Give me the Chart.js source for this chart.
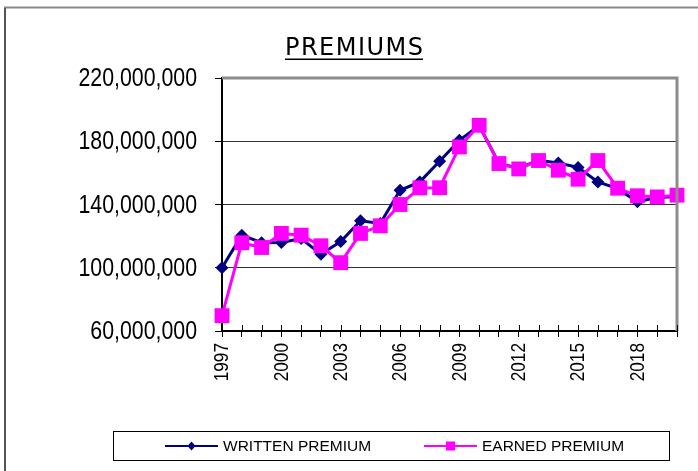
<!DOCTYPE html>
<html>
<head>
<meta charset="utf-8">
<script src="https://cdn.jsdelivr.net/npm/chart.js@4/dist/chart.umd.min.js"></script>
<style>
  html, body { margin: 0; padding: 0; background: #fff; }
  #wrap { width: 698px; height: 471px; position: relative; }
</style>
</head>
<body>
<div id="wrap"><canvas id="chart" width="698" height="471"></canvas></div>
<script>
const years = ['1997','1998','1999','2000','2001','2002','2003','2004','2005','2006','2007','2008',
  '2009','2010','2011','2012','2013','2014','2015','2016','2017','2018','2019','2020'];
const written = [100.0, 120.6, 115.8, 116.0, 118.5, 108.6, 116.6, 129.7, 128.0, 149.0, 154.3, 167.4,
  180.6, 190.0, 166.0, 163.0, 168.0, 166.3, 163.4, 154.3, 150.0, 141.7, 144.5, 145.0].map(v => v * 1e6);
const earned = [69.7, 115.8, 112.8, 121.7, 120.6, 113.9, 103.2, 121.7, 126.5, 140.0, 150.5, 150.6,
  176.4, 190.1, 165.9, 162.5, 167.8, 161.7, 156.0, 167.8, 150.3, 145.5, 144.8, 145.9].map(v => v * 1e6);
const yTicks = [60e6, 100e6, 140e6, 180e6, 220e6];

const NAVY = '#000080';
const MAGENTA = '#FF00FF';
const SANS = '"Liberation Sans", Arial, sans-serif';
const NARROW = 0.82; // no Arial Narrow installed: squeeze Liberation Sans

// frame, axis labels, title, custom legend
const decor = {
  id: 'decor',
  beforeDraw(chart) {
    const ctx = chart.ctx;
    ctx.save();
    ctx.fillStyle = '#fff';
    ctx.fillRect(0, 0, chart.width, chart.height);
    // outer border (left + top)
    ctx.strokeStyle = '#888';
    ctx.lineWidth = 2;
    ctx.beginPath();
    ctx.moveTo(5, 480); ctx.lineTo(5, 7.5); ctx.lineTo(700, 7.5);
    ctx.stroke();
    ctx.strokeStyle = '#222';
    ctx.lineWidth = 1;
    ctx.beginPath();
    ctx.moveTo(5, 480); ctx.lineTo(5, 8);
    ctx.stroke();
    ctx.restore();
  },
  afterDraw(chart) {
    const ctx = chart.ctx;
    const a = chart.chartArea;
    const xs = chart.scales.x;
    const ys = chart.scales.y;
    ctx.save();
    // plot frame top/right (gray)
    ctx.strokeStyle = '#8c8c8c';
    ctx.lineWidth = 3;
    ctx.beginPath();
    ctx.moveTo(a.left, a.top); ctx.lineTo(a.right, a.top); ctx.lineTo(a.right, a.bottom);
    ctx.stroke();
    // x tick marks above the axis
    ctx.strokeStyle = '#000';
    ctx.lineWidth = 1;
    ctx.beginPath();
    years.forEach((y, i) => {
      const px = Math.round(xs.getPixelForTick(i)) + 0.5;
      ctx.moveTo(px, a.bottom - 6); ctx.lineTo(px, a.bottom);
    });
    ctx.stroke();

    // y tick labels
    ctx.fillStyle = '#000';
    ctx.font = '26px ' + SANS;
    ctx.textAlign = 'right';
    ctx.textBaseline = 'middle';
    yTicks.forEach(v => {
      ctx.save();
      ctx.translate(a.left - 25, ys.getPixelForValue(v) + 1);
      ctx.scale(NARROW, 1);
      ctx.fillText(v.toLocaleString('en-US'), 0, 0);
      ctx.restore();
    });
    // x tick labels, every third year, rotated
    ctx.font = '21px ' + SANS;
    years.forEach((y, i) => {
      if (i % 3 !== 0) return;
      ctx.save();
      ctx.translate(xs.getPixelForTick(i) + 0.5, a.bottom + 12);
      ctx.rotate(-Math.PI / 2);
      ctx.scale(NARROW, 1);
      ctx.fillText(y, 0, 0);
      ctx.restore();
    });

    // title
    ctx.fillStyle = '#000';
    ctx.font = '24px "DejaVu Sans", Verdana, sans-serif';
    ctx.letterSpacing = '1.5px';
    ctx.textAlign = 'left';
    ctx.textBaseline = 'alphabetic';
    const title = 'PREMIUMS';
    const tw = ctx.measureText(title).width - 1.5;
    const tx = 354 - tw / 2;
    ctx.fillText(title, tx, 55);
    ctx.letterSpacing = '0px';
    ctx.fillRect(tx, 58.5, tw, 1.5);

    // legend
    ctx.strokeStyle = '#000';
    ctx.lineWidth = 1;
    ctx.strokeRect(113.5, 431.5, 556, 29);
    const items = [
      { ds: chart.data.datasets[1], x: 165 },
      { ds: chart.data.datasets[0], x: 424 }
    ];
    const ly = 446;
    ctx.font = '15.5px ' + SANS;
    ctx.textBaseline = 'middle';
    items.forEach(it => {
      const c = it.ds.borderColor;
      ctx.strokeStyle = c;
      ctx.lineWidth = 2;
      ctx.beginPath();
      ctx.moveTo(it.x, ly); ctx.lineTo(it.x + 53, ly);
      ctx.stroke();
      ctx.fillStyle = c;
      const cx = it.x + 26.5;
      if (it.ds.pointStyle === 'rect') {
        ctx.fillRect(cx - 4.5, ly - 4.5, 9, 9);
      } else {
        ctx.beginPath();
        ctx.moveTo(cx - 4, ly); ctx.lineTo(cx, ly - 4.5); ctx.lineTo(cx + 4, ly); ctx.lineTo(cx, ly + 4.5);
        ctx.closePath(); ctx.fill();
      }
      ctx.fillStyle = '#000';
      ctx.fillText(it.ds.label, it.x + 58, ly + 1);
    });
    ctx.restore();
  }
};

new Chart(document.getElementById('chart'), {
  type: 'line',
  data: {
    labels: years,
    datasets: [
      {
        label: 'EARNED PREMIUM',
        data: earned,
        borderColor: MAGENTA,
        backgroundColor: MAGENTA,
        borderWidth: 3,
        pointStyle: 'rect',
        pointRadius: 10.5,
        pointHoverRadius: 10.5,
        pointBorderWidth: 0,
        tension: 0,
        clip: false,
        order: 0
      },
      {
        label: 'WRITTEN PREMIUM',
        data: written,
        borderColor: NAVY,
        backgroundColor: NAVY,
        borderWidth: 3,
        pointStyle: 'rectRot',
        pointRadius: 6.5,
        pointHoverRadius: 6.5,
        pointBorderWidth: 0,
        tension: 0,
        clip: false,
        order: 1
      }
    ]
  },
  options: {
    responsive: false,
    animation: false,
    events: [],
    layout: { padding: { top: 78, right: 21, bottom: 0, left: 0 } },
    plugins: {
      legend: { display: false },
      title: { display: false },
      tooltip: { enabled: false }
    },
    scales: {
      x: {
        offset: false,
        afterFit(scale) { scale.height = 140; },
        border: { display: true, color: '#000', width: 2 },
        grid: {
          drawOnChartArea: false,
          drawTicks: true,
          tickLength: 6,
          tickColor: '#000',
          lineWidth: 1
        },
        ticks: { display: false, autoSkip: false }
      },
      y: {
        min: yTicks[0],
        max: yTicks[yTicks.length - 1],
        afterFit(scale) { scale.width = 222; },
        afterBuildTicks(scale) { scale.ticks = yTicks.map(v => ({ value: v })); },
        border: { display: true, color: '#000', width: 2 },
        grid: {
          color(c) {
            const v = c.tick && c.tick.value;
            return (v === yTicks[0] || v === yTicks[yTicks.length - 1]) ? 'rgba(0,0,0,0)' : '#333';
          },
          borderDash: [1, 1],
          lineWidth: 1,
          tickLength: 7,
          tickColor: '#000',
          tickBorderDash: []
        },
        ticks: { display: false }
      }
    }
  },
  plugins: [decor]
});
</script>
</body>
</html>
